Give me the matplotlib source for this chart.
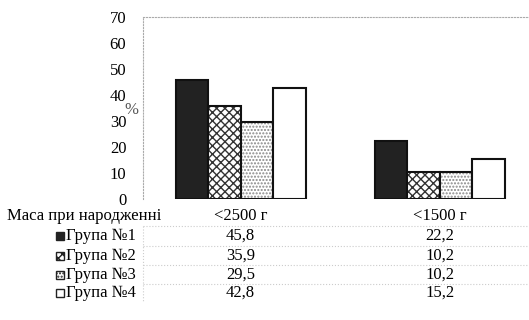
import matplotlib.pyplot as plt
from matplotlib.patches import Rectangle
from matplotlib.transforms import blended_transform_factory
import numpy as np

plt.rcParams['font.family'] = ['Liberation Serif', 'DejaVu Serif']

categories = ['<2500 г', '<1500 г']
groups = ['Група №1', 'Група №2', 'Група №3', 'Група №4']
group1 = [45.8, 22.2]
group2 = [35.9, 10.2]
group3 = [29.5, 10.2]
group4 = [42.8, 15.2]
values = [group1, group2, group3, group4]
labels = [[str(v).replace('.', ',') for v in s] for s in values]

faces = ['#222222', 'white', 'white', 'white']
hatches = [None, 'xxxx', '.....', None]
hatch_cols = ['#222222', '#333333', '#888888', 'black']
fs = 12

fig = plt.figure(figsize=(5.29, 3.2), dpi=100)
ax = fig.add_axes([143 / 529, 1 - 199 / 320, 1 - 143 / 529, 182 / 320])

x = np.arange(len(categories))
w = 0.163
for i in range(4):
    pos = x + (i - 1.5) * w
    ax.bar(pos, values[i], w, color=faces[i], hatch=hatches[i],
           edgecolor=hatch_cols[i], linewidth=0)
    ax.bar(pos, values[i], w, fill=False, edgecolor='#111111', linewidth=1.5)

ax.set_xlim(-0.49, 1.447)
ax.set_ylim(0, 70)
ax.set_yticks(range(0, 71, 10))
ax.set_xticks([])
ax.tick_params(axis='y', length=0, pad=12, labelsize=fs)
for s in ['right', 'bottom']:
    ax.spines[s].set_visible(False)
for s in ['left', 'top']:
    ax.spines[s].set_color('#aaaaaa')
    ax.spines[s].set_linestyle(':')
    ax.spines[s].set_linewidth(0.8)

fig.text(124 / 529, 1 - 110 / 320, '%', fontsize=fs, color='#555555',
         ha='left', va='center')

# table below the plot
tr = blended_transform_factory(ax.transData, fig.transFigure)
row_y = [216, 236, 256, 275, 293]
fy = lambda py: 1 - py / 320

fig.text(7 / 529, fy(row_y[0]), 'Маса при народженні', fontsize=fs,
         ha='left', va='center')
for j, c in enumerate(categories):
    ax.text(x[j], fy(row_y[0]), c, transform=tr, fontsize=fs,
            ha='center', va='center', clip_on=False)

for i, g in enumerate(groups):
    yy = fy(row_y[i + 1])
    fig.text(66 / 529, yy, g, fontsize=fs, ha='left', va='center')
    kx, ks = 56 / 529, 8
    rect = Rectangle((kx, yy - ks / 2 / 320), ks / 529, ks / 320,
                     transform=fig.transFigure, facecolor=faces[i],
                     hatch=hatches[i], edgecolor='#222222', linewidth=1)
    fig.patches.append(rect)
    for j in range(len(categories)):
        ax.text(x[j], yy, labels[i][j], transform=tr, fontsize=fs,
                ha='center', va='center', clip_on=False)

for py in [226, 246, 265, 284]:
    fig.add_artist(plt.Line2D([143 / 529, 1], [fy(py), fy(py)],
                              color='#cccccc', lw=0.8, ls=':'))
fig.add_artist(plt.Line2D([143 / 529, 143 / 529], [fy(226), fy(302)],
                          color='#cccccc', lw=0.8, ls=':'))

fig.savefig('out.png', dpi=100)
